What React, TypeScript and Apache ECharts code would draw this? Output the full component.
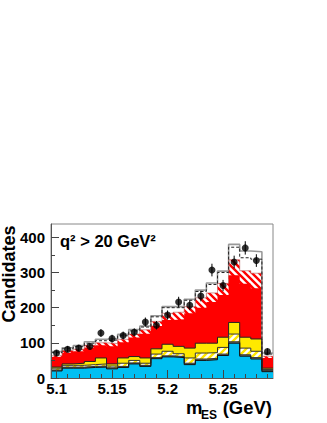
import React, { useEffect, useRef } from "react";
import * as echarts from "echarts";

// Bin centres (GeV), bin width 0.01
const bins = [5.10, 5.11, 5.12, 5.13, 5.14, 5.15, 5.16, 5.17, 5.18, 5.19, 5.20, 5.21, 5.22, 5.23, 5.24, 5.25, 5.26, 5.27, 5.28, 5.29];
// Stacked component contributions (candidates per bin), bottom to top
const cyan = [20, 28, 28, 30, 31, 26, 30, 40, 33, 55, 60, 58, 38, 50, 52, 64, 99, 62, 54, 18];
const darkBand = [3, 3, 3, 3, 3, 3, 3, 3, 3, 3, 3, 3, 4, 4, 4, 4, 4, 4, 4, 3];
const yellowHatch = [5, 5, 5, 5, 6, 5, 9, 7, 6, 10, 13, 8, 15, 17, 16, 19, 22, 19, 18, 3];
const yellow = [3, 4, 6, 9, 17, 6, 15, 11, 15, 15, 20, 21, 28, 28, 27, 29, 33, 31, 35, 4];
const red = [29, 32, 34, 40, 36, 50, 45, 54, 69, 65, 69, 77, 99, 101, 117, 120, 134, 152, 144, 29];
const redHatch = [3, 6, 6, 6, 7, 8, 8, 10, 11, 13, 19, 20, 19, 28, 26, 33, 44, 37, 43, 5];
const whiteTop = [12, 8, 10, 10, 10, 14, 14, 13, 11, 16, 19, 16, 21, 22, 28, 35, 44, 56, 61, 9];
// Alternative total (dashed)
const dashedTotal = [72, 83, 89, 99, 106, 108, 120, 134, 145, 174, 200, 200, 221, 246, 266, 300, 372, 342, 338, 68];
// Data points
const dataCounts = [71, 82, 85, 90, 128, 112, 121, 130, 159, 150, 179, 216, 207, 233, 307, 263, 330, 370, 334, 75];
const dataErrors = [8, 9, 9, 9, 11, 11, 11, 11, 13, 12, 13, 15, 14, 15, 18, 16, 18, 19, 18, 9];
// Axes
const xTickLabels = [5.1, 5.15, 5.2, 5.25];
const xMinorTicks = [5.11, 5.12, 5.13, 5.14, 5.16, 5.17, 5.18, 5.19, 5.21, 5.22, 5.23, 5.24, 5.26, 5.27, 5.28, 5.29];
const yTickLabels = [0, 100, 200, 300, 400];
const yMinorTicks = [50, 150, 250, 350];

const FONT = "Liberation Sans, Arial, Helvetica, sans-serif";
const HALF = 0.005;

function stripes(bg: string, fg: string, dir: "back" | "fwd", size = 7, width = 2.4) {
  const c = document.createElement("canvas");
  c.width = size;
  c.height = size;
  const g = c.getContext("2d")!;
  g.fillStyle = bg;
  g.fillRect(0, 0, size, size);
  g.strokeStyle = fg;
  g.lineWidth = width;
  g.beginPath();
  if (dir === "back") {
    g.moveTo(-1, -1); g.lineTo(size + 1, size + 1);
    g.moveTo(-1, size - 1); g.lineTo(1, size + 1);
    g.moveTo(size - 1, -1); g.lineTo(size + 1, 1);
  } else {
    g.moveTo(-1, size + 1); g.lineTo(size + 1, -1);
    g.moveTo(-1, 1); g.lineTo(1, -1);
    g.moveTo(size - 1, size + 1); g.lineTo(size + 1, size - 1);
  }
  g.stroke();
  return c;
}

function stepData(vals: number[]) {
  const pts: number[][] = bins.map((b, i) => [b - HALF, vals[i]]);
  pts.push([bins[bins.length - 1] + HALF, vals[vals.length - 1]]);
  return pts;
}

export default function App() {
  const ref = useRef<HTMLDivElement>(null);
  useEffect(() => {
    if (!ref.current) return;
    const chart = echarts.init(ref.current, undefined, { renderer: "svg" });
    const redPat = { image: stripes("#ffffff", "#ff0000", "back"), repeat: "repeat" };
    const yelPat = { image: stripes("#ffffff", "#ffe600", "fwd"), repeat: "repeat" };

    const layers = [cyan, darkBand, yellowHatch, yellow, red, redHatch, whiteTop];
    const cum: number[][] = [];
    layers.forEach((l, k) => {
      cum.push(l.map((v, i) => v + (k > 0 ? cum[k - 1][i] : 0)));
    });
    const styles: [any, string, number][] = [
      ["#00bff2", "#111", 1],
      ["#77776a", "#333", 1],
      [yelPat, "#333", 1],
      ["#ffe900", "#222", 1],
      ["#ff0000", "#ff0000", 0],
      [redPat, "#b05050", 0.6],
      ["#ffffff", "#999999", 1.6],
    ];
    // draw from the top layer down so that lower layers sit on top
    const areaSeries = cum.map((vals, k) => ({
      type: "line",
      name: "layer" + k,
      step: "end",
      symbol: "none",
      data: stepData(vals),
      lineStyle: { color: styles[k][1], width: styles[k][2] },
      areaStyle: { color: styles[k][0], opacity: 1, origin: "start" },
      z: 2,
      zlevel: 0,
    })).reverse();

    chart.setOption({
      animation: false,
      grid: {
        left: 51, right: 54, top: 224, bottom: 45,
        show: true, borderColor: "#888", borderWidth: 1, backgroundColor: "transparent",
      },
      xAxis: [
        {
          type: "value", min: 5.095, max: 5.295, z: 10,
          axisLine: { lineStyle: { color: "#555", width: 1 } },
          splitLine: { show: false },
          axisTick: { customValues: xTickLabels, inside: true, length: 8, lineStyle: { color: "#444" } },
          axisLabel: {
            customValues: xTickLabels, margin: 3, color: "#000",
            fontFamily: FONT, fontWeight: "bold", fontSize: 15,
            formatter: (v: number) => String(parseFloat(v.toFixed(2))),
          },
        },
        {
          type: "value", min: 5.095, max: 5.295, position: "bottom", z: 10,
          axisLine: { show: false },
          splitLine: { show: false },
          axisTick: { customValues: xMinorTicks, inside: true, length: 4, lineStyle: { color: "#444" } },
          axisLabel: { show: false },
        },
      ],
      yAxis: [
        {
          type: "value", min: 0, max: 438, z: 10,
          axisLine: { show: true, lineStyle: { color: "#555", width: 1 } },
          splitLine: { show: false },
          axisTick: { customValues: yTickLabels, inside: true, length: 8, lineStyle: { color: "#444" } },
          axisLabel: {
            customValues: yTickLabels, margin: 6, color: "#000",
            fontFamily: FONT, fontWeight: "bold", fontSize: 15,
          },
        },
        {
          type: "value", min: 0, max: 438, position: "left", z: 10,
          axisLine: { show: false },
          splitLine: { show: false },
          axisTick: { customValues: yMinorTicks, inside: true, length: 4, lineStyle: { color: "#444" } },
          axisLabel: { show: false },
        },
      ],
      series: [
        ...areaSeries,
        {
          type: "line", name: "dashed", step: "end", symbol: "none",
          data: stepData(dashedTotal),
          lineStyle: { color: "#222", width: 1, type: [3, 2] },
          z: 3,
        },
        {
          type: "custom", name: "errors", z: 4,
          data: bins.map((b, i) => [b, dataCounts[i], dataErrors[i]]),
          renderItem: (_p: any, api: any) => {
            const x = api.value(0), v = api.value(1), e = api.value(2);
            const a = api.coord([x, v - e]);
            const b = api.coord([x, v + e]);
            return { type: "line", shape: { x1: a[0], y1: a[1], x2: b[0], y2: b[1] }, style: { stroke: "#000", lineWidth: 1 } };
          },
        },
        {
          type: "scatter", name: "data", z: 5,
          symbol: "circle", symbolSize: 7,
          itemStyle: { color: "#000" },
          data: bins.map((b, i) => [b, dataCounts[i]]),
        },
      ],
      graphic: [
        {
          type: "text", x: 8.5, y: 274, rotation: Math.PI / 2,
          style: { text: "Candidates", fontFamily: FONT, fontWeight: "bold", fontSize: 18, fill: "#000", align: "center", verticalAlign: "middle" },
        },
        {
          type: "text", x: 60, y: 241,
          style: { text: "q² > 20 GeV²", fontFamily: FONT, fontWeight: "bold", fontSize: 16.5, fill: "#000", align: "left", verticalAlign: "middle" },
        },
        {
          type: "text", x: 186, y: 407,
          style: { text: "m", fontFamily: FONT, fontWeight: "bold", fontSize: 18.5, fill: "#000", align: "left", verticalAlign: "middle" },
        },
        {
          type: "text", x: 201, y: 415,
          style: { text: "ES", fontFamily: FONT, fontWeight: "bold", fontSize: 12, fill: "#000", align: "left", verticalAlign: "middle" },
        },
        {
          type: "text", x: 272, y: 407,
          style: { text: "(GeV)", fontFamily: FONT, fontWeight: "bold", fontSize: 18.5, fill: "#000", align: "right", verticalAlign: "middle" },
        },
      ],
    });
    return () => chart.dispose();
  }, []);
  return <div ref={ref} style={{ position: "absolute", left: 0, top: 0, width: 327, height: 423 }} />;
}
